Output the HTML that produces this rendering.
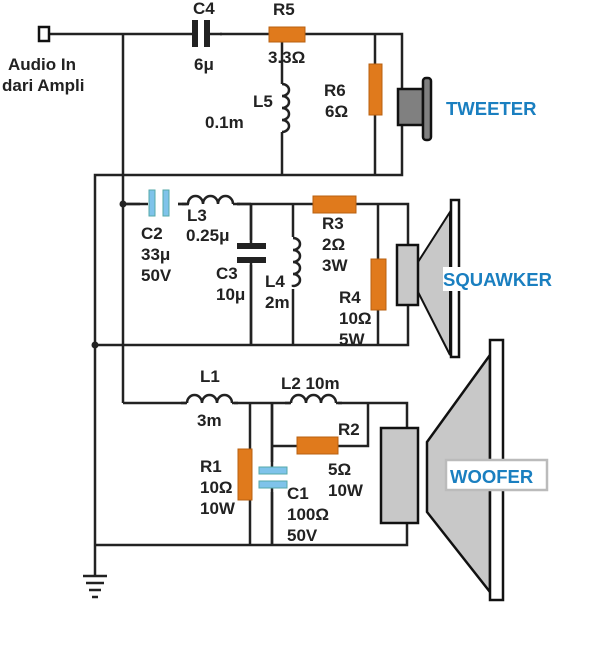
<!DOCTYPE html>
<html><head><style>
body{margin:0;background:#fff;width:600px;height:659px;overflow:hidden}
svg text{font-family:"Liberation Sans",Arial,sans-serif;font-weight:bold;font-size:17px;fill:#222}
svg text.b{fill:#1a7fc0;font-size:18.5px}
</style></head><body>
<svg width="600" height="659" viewBox="0 0 600 659" xmlns="http://www.w3.org/2000/svg">
<g stroke="#222" stroke-width="2.5" fill="none">
<polyline points="49,34 402,34 402,175 95,175 95,575"/>
<line x1="123" y1="34" x2="123" y2="403"/>
<line x1="282" y1="34" x2="282" y2="175"/>
<line x1="375" y1="34" x2="375" y2="175"/>
<polyline points="123,204 408,204 408,345 95,345"/>
<line x1="251" y1="204" x2="251" y2="345"/>
<line x1="293" y1="204" x2="293" y2="345"/>
<line x1="378" y1="204" x2="378" y2="345"/>
<polyline points="123,403 407,403 407,545 95,545"/>
<line x1="250" y1="403" x2="250" y2="545"/>
<line x1="272" y1="403" x2="272" y2="545"/>
<polyline points="272,446 368,446 368,403"/>
</g>
<g fill="#fff">
<rect x="276" y="84" width="12" height="48"/>
<rect x="189" y="195" width="48" height="14"/>
<rect x="287" y="237" width="12" height="52"/>
<rect x="186" y="394" width="48" height="14"/>
<rect x="290" y="394" width="48" height="14"/>
<rect x="180" y="20" width="40" height="28"/>
<rect x="140" y="190" width="38" height="28"/>
<rect x="230" y="240" width="40" height="25"/>
<rect x="255" y="462" width="36" height="30"/>
</g>
<g stroke="#222" stroke-width="2.5" fill="none">
<path d="M282,84 a7,6 0 1 1 0,12 a7,6 0 1 1 0,12 a7,6 0 1 1 0,12 a7,6 0 1 1 0,12"/>
<path d="M293,238 a7,6 0 1 1 0,12 a7,6 0 1 1 0,12 a7,6 0 1 1 0,12 a7,6 0 1 1 0,12 a7,6 0 0 1 0,1"/>
<path d="M188,204 a7.5,8 0 1 1 15,0 a7.5,8 0 1 1 15,0 a7.5,8 0 1 1 15,0"/>
<path d="M187,403 a7.5,8 0 1 1 15,0 a7.5,8 0 1 1 15,0 a7.5,8 0 1 1 15,0"/>
<path d="M291,403 a7.5,8 0 1 1 15,0 a7.5,8 0 1 1 15,0 a7.5,8 0 1 1 15,0"/>
<line x1="182" y1="204" x2="188" y2="204"/><line x1="233" y1="204" x2="240" y2="204"/>
<line x1="181" y1="403" x2="187" y2="403"/><line x1="232" y1="403" x2="238" y2="403"/>
<line x1="285" y1="403" x2="291" y2="403"/><line x1="336" y1="403" x2="342" y2="403"/>
<line x1="237" y1="204" x2="251" y2="204"/>
<line x1="178" y1="204" x2="186" y2="204"/>
<line x1="123" y1="204" x2="148" y2="204"/>
<line x1="251" y1="204" x2="251" y2="243"/><line x1="251" y1="262" x2="251" y2="345"/>
<line x1="272" y1="403" x2="272" y2="467"/><line x1="272" y1="488" x2="272" y2="545"/>
</g>
<rect x="192" y="20" width="6" height="27" fill="#222"/>
<rect x="204" y="20" width="6" height="27" fill="#222"/>
<line x1="180" y1="34" x2="192" y2="34" stroke="#222" stroke-width="2.5"/>
<line x1="210" y1="34" x2="222" y2="34" stroke="#222" stroke-width="2.5"/>
<rect x="149" y="190" width="6" height="26" fill="#7fc3ea" stroke="#5aa" stroke-width="1"/>
<rect x="163" y="190" width="6" height="26" fill="#7fc3ea" stroke="#5aa" stroke-width="1"/>
<rect x="237" y="243" width="29" height="6" fill="#222"/>
<rect x="237" y="257" width="29" height="6" fill="#222"/>
<rect x="259" y="467" width="28" height="7" fill="#7fc3ea" stroke="#5aa" stroke-width="1"/>
<rect x="259" y="481" width="28" height="7" fill="#7fc3ea" stroke="#5aa" stroke-width="1"/>
<g fill="#e07a1c" stroke="#b86010" stroke-width="1">
<rect x="269" y="27" width="36" height="15"/>
<rect x="369" y="64" width="13" height="51"/>
<rect x="313" y="196" width="43" height="17"/>
<rect x="371" y="259" width="15" height="51"/>
<rect x="238" y="449" width="14" height="51"/>
<rect x="297" y="437" width="41" height="17"/>
</g>
<rect x="39" y="27" width="10" height="14" fill="#fff" stroke="#111" stroke-width="2.5"/>
<circle cx="123" cy="204" r="3.5" fill="#222"/>
<circle cx="95" cy="345" r="3.5" fill="#222"/>
<g stroke="#222" stroke-width="2.5">
<line x1="83" y1="576" x2="107" y2="576"/><line x1="86" y1="583" x2="104" y2="583"/>
<line x1="89" y1="590" x2="101" y2="590"/><line x1="92" y1="597" x2="98" y2="597"/>
</g>
<rect x="398" y="89" width="25" height="36" fill="#808080" stroke="#111" stroke-width="2.5"/>
<rect x="423" y="78" width="8" height="62" rx="3" fill="#808080" stroke="#111" stroke-width="2.5"/>
<polygon points="418,262 450,212 450,355 418,292" fill="#c8c8c8" stroke="#111" stroke-width="2"/>
<rect x="397" y="245" width="21" height="60" fill="#c8c8c8" stroke="#111" stroke-width="2.5"/>
<rect x="451" y="200" width="8" height="157" fill="#fff" stroke="#111" stroke-width="2.5"/>
<rect x="443" y="267" width="112" height="24" fill="#fff"/>
<polygon points="427,442 490,355 490,592 427,512" fill="#c8c8c8" stroke="#111" stroke-width="2.5"/>
<rect x="381" y="428" width="37" height="95" fill="#c8c8c8" stroke="#111" stroke-width="2.5"/>
<rect x="490" y="340" width="13" height="260" fill="#fff" stroke="#111" stroke-width="2.5"/>
<rect x="446" y="460" width="101" height="30" fill="#fff" stroke="#bbb" stroke-width="2.5"/>
<text x="8" y="70">Audio In</text>
<text x="2" y="91">dari Ampli</text>
<text x="193" y="14">C4</text>
<text x="194" y="70">6μ</text>
<text x="273" y="15">R5</text>
<text x="268" y="63">3.3Ω</text>
<text x="253" y="107">L5</text>
<text x="205" y="128">0.1m</text>
<text x="324" y="96">R6</text>
<text x="325" y="117">6Ω</text>
<text class="b" x="446" y="115">TWEETER</text>
<text x="141" y="239">C2</text>
<text x="141" y="260">33μ</text>
<text x="141" y="281">50V</text>
<text x="187" y="221">L3</text>
<text x="186" y="241">0.25μ</text>
<text x="216" y="279">C3</text>
<text x="216" y="300">10μ</text>
<text x="265" y="287">L4</text>
<text x="265" y="308">2m</text>
<text x="322" y="229">R3</text>
<text x="322" y="250">2Ω</text>
<text x="322" y="271">3W</text>
<text x="339" y="303">R4</text>
<text x="339" y="324">10Ω</text>
<text x="339" y="345">5W</text>
<text class="b" x="443" y="286">SQUAWKER</text>
<text x="200" y="382">L1</text>
<text x="197" y="426">3m</text>
<text x="281" y="389">L2 10m</text>
<text x="338" y="435">R2</text>
<text x="328" y="475">5Ω</text>
<text x="328" y="496">10W</text>
<text x="200" y="472">R1</text>
<text x="200" y="493">10Ω</text>
<text x="200" y="514">10W</text>
<text x="287" y="499">C1</text>
<text x="287" y="520">100Ω</text>
<text x="287" y="541">50V</text>
<text class="b" x="450" y="483">WOOFER</text>
</svg>
</body></html>
